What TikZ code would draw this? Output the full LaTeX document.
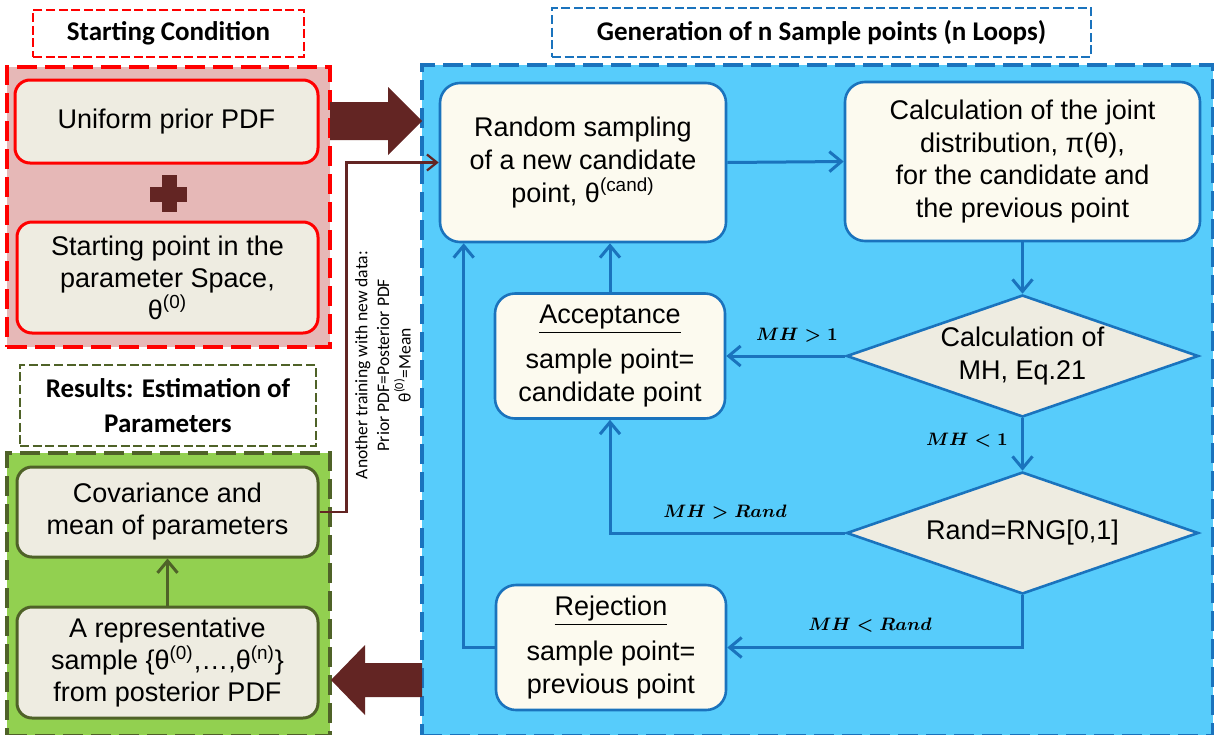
\documentclass[tikz,border=0pt]{standalone}
\usepackage{fontspec}
\setmainfont{Liberation Sans}
\newfontfamily\calib{Carlito}
\usetikzlibrary{shapes.geometric,arrows.meta,calc}
\definecolor{redfill}{HTML}{E6B8B7}
\definecolor{redline}{HTML}{FF0000}
\definecolor{boxfill}{HTML}{EEECE1}
\definecolor{cream}{HTML}{FCFAEF}
\definecolor{bluefill}{HTML}{57CCFB}
\definecolor{bline}{HTML}{1A73BD}
\definecolor{greenfill}{HTML}{92D050}
\definecolor{olive}{HTML}{4F6228}
\definecolor{maroon}{HTML}{632523}
\tikzset{
  grp/.style={line width=1.6pt, dash pattern=on 10pt off 4pt},
  ttl/.style={line width=1.4pt, dash pattern=on 4.5pt off 1.8pt, fill=white, align=center, inner sep=0pt,
     font=\calib\bfseries\fontsize{13.5}{17.5}\selectfont},
  box/.style={rounded corners=7.5pt, line width=1.5pt, fill=boxfill, align=center, inner sep=0pt,
     font=\fontsize{13.5}{16}\selectfont},
  bbox/.style={rounded corners=10pt, draw=bline, line width=1.3pt, fill=cream, align=center, inner sep=0pt,
     font=\fontsize{13.5}{16.3}\selectfont},
  dia/.style={diamond, draw=bline, fill=boxfill, line width=1.3pt, inner sep=0pt},
  dtext/.style={align=center, inner sep=0pt, font=\fontsize{13.5}{16.5}\selectfont},
  flow/.style={draw=bline, line width=1.5pt, -{Straight Barb[length=6pt,width=10pt]}},
  cond/.style={inner sep=0pt, font=\fontsize{9}{11}\selectfont\boldmath},
}
\begin{document}
\begin{tikzpicture}[x=0.5pt,y=-0.5pt]
\useasboundingbox (0,0) rectangle (1214,734);

% groups
\node[grp, draw=redline, fill=redfill, minimum width=161.5pt, minimum height=140pt] (grpR) at (168.5,207) {};
\node[grp, draw=olive, fill=greenfill, minimum width=161.5pt, minimum height=141.5pt] (grpG) at (168.5,594.5) {};
\node[grp, draw=bline, fill=bluefill, minimum width=395.5pt, minimum height=335.5pt] (grpB) at (817.5,400.5) {};

% titles
\node[ttl, draw=redline, minimum width=135.5pt, minimum height=23.5pt] (tS) at (168.5,33.5) {Starting Condition};
\node[ttl, draw=olive, minimum width=148pt, minimum height=40.5pt] (tR) at (168,405.5) {Results: Estimation of\\Parameters};
\node[ttl, draw=bline, minimum width=269.5pt, minimum height=24.5pt] (tG) at (821.5,32.5) {Generation of n Sample points (n Loops)};

% red group content
\node[box, draw=redline, minimum width=151.5pt, minimum height=41.5pt] (uni) at (166.5,121.5) {Uniform prior PDF};
\node[box, draw=redline, minimum width=150.5pt, minimum height=55.5pt] (start) at (167.5,277.5) {Starting point in the\\parameter Space,\\θ\textsuperscript{(0)}};
\fill[maroon] (150,187) rectangle (187,202);
\fill[maroon] (162,175) rectangle (177,212);

% green group content
\node[box, draw=olive, minimum width=150.5pt, minimum height=45pt] (cov) at (167.5,512) {Covariance and\\mean of parameters};
\node[box, draw=olive, minimum width=150.5pt, minimum height=55.5pt] (rep) at (167.5,662.5) {A representative\\sample \{θ\textsuperscript{(0)},…,θ\textsuperscript{(n)}\}\\from posterior PDF};
\draw[olive, line width=1.5pt, -{Straight Barb[length=6pt,width=10pt]}] (rep.north) -- (cov.south);

% big arrows
\fill[maroon] (330,102) -- (388,102) -- (388,87) -- (422,121) -- (388,155) -- (388,140) -- (330,140) -- cycle;
\fill[maroon] (422,663) -- (365,663) -- (365,645) -- (331,680) -- (365,715) -- (365,697) -- (422,697) -- cycle;

% blue group content
\node[bbox, minimum width=143pt, minimum height=79.5pt] (rand) at (583,162.5) {Random sampling\\of a new candidate\\point, θ\textsuperscript{(cand)}};
\node[bbox, minimum width=177.5pt, minimum height=79.5pt] (joint) at (1022.5,161.5) {Calculation of the joint\\distribution, π(θ),\\for the candidate and\\the previous point};
\node[bbox, minimum width=115pt, minimum height=62.5pt] (acc) at (610,356) {\underline{Acceptance}\\[6pt]sample point=\\candidate point};
\node[bbox, minimum width=115pt, minimum height=62.5pt] (rej) at (611,647.5) {\underline{Rejection}\\[6pt]sample point=\\previous point};
\node[dia, minimum width=176pt, minimum height=61pt, label={[dtext]center:{Calculation of\\MH, Eq.21}}] (d1) at (1022.5,356) {};
\node[dia, minimum width=176pt, minimum height=61pt, label={[dtext]center:{Rand=RNG[0,1]}}] (d2) at (1022.5,533) {};

% flow connectors
\draw[flow] (rand.east) -- (joint.west);
\draw[flow] (joint.south) -- (d1.north);
\draw[flow] (d1.west) -- (acc.east);
\draw[flow] (d1.south) -- (d2.north);
\draw[flow] (d2.west) -| (acc.south);
\draw[flow] (d2.south) |- (rej.east);
\draw[flow] (acc.north) -- (acc.north |- rand.south);
\draw[flow] (rej.west) -| ([xshift=12.5pt]rand.south west);

% condition labels
\node[cond] (c1) at (797,335) {$MH>1$};
\node[cond] (c2) at (967,440) {$MH<1$};
\node[cond] (c3) at (725,512) {$MH>Rand$};
\node[cond] (c4) at (870,625) {$MH<Rand$};

% feedback connector
\draw[maroon, line width=1.1pt, -{Straight Barb[length=5pt,width=8pt]}] (cov.east) -- ++(27,0) |- (rand.west);
\node[rotate=90, align=center, inner sep=0pt, font=\calib\fontsize{8.8}{10.8}\selectfont] (fbt) at (383,365)
  {Another training with new data:\\Prior PDF=Posterior PDF\\θ\textsuperscript{(0)}=Mean};
\end{tikzpicture}
\end{document}
